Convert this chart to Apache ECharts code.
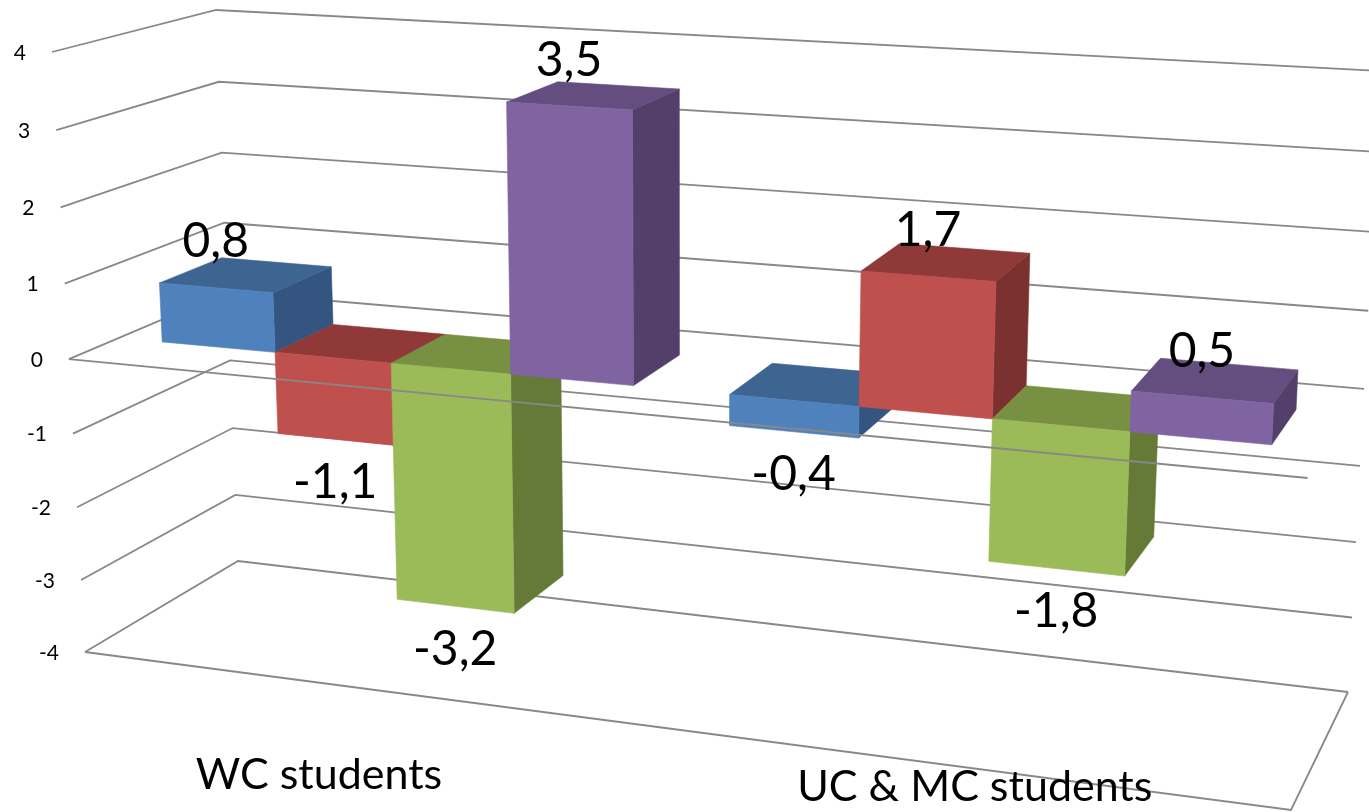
<!DOCTYPE html>
<html>
<head>
<meta charset="utf-8">
<title>Student scores by group</title>
<script src="https://cdn.jsdelivr.net/npm/echarts@6/dist/echarts.min.js"></script>
<style>
  html, body { margin: 0; padding: 0; background: #fff; }
  #chart { width: 1369px; height: 812px; }
</style>
</head>
<body>
<div id="chart"></div>
<script>
// Chart data
const categories = ['WC students', 'UC & MC students'];
const blueValues = [0.8, -0.4];
const redValues = [-1.1, 1.7];
const greenValues = [-3.2, -1.8];
const purpleValues = [3.5, 0.5];
const yTicks = [4, 3, 2, 1, 0, -1, -2, -3, -4];

// Shaded faces of each column
const palette = [
  { front: '#4F81BD', top: '#3E6491', side: '#33557F' },
  { front: '#C0504D', top: '#8F3A38', side: '#7B312F' },
  { front: '#9BBB59', top: '#789042', side: '#667A37' },
  { front: '#8064A2', top: '#644D7F', side: '#53406A' }
];

// Screen corners of the 3D plot box: F/B = front/back, L/R = left/right, T/B = top/bottom
const box = {
  FLT: [52, 52], FLB: [85, 652], BLT: [216, 10], BLB: [238, 561],
  FRT: [1325, 130], FRB: [1291, 810], BRT: [1381, 71], BRB: [1348, 692]
};
const PERSP_X = 1.15;      // foreshortening along the width
const PERSP_Y = 0.954;     // foreshortening along the height
const DEPTH_FRONT = 0.316; // front face of the columns inside the box
const DEPTH_BACK = 0.715;  // back face of the columns inside the box
const BAR_SHARE = 0.21;    // column width as a share of the category band
const BAR_SHIFT = 0.001;   // small sideways offset of every column

const GRID_COLOR = '#888888';
const FONT = 'Lato, Carlito, sans-serif';
const LABEL_GAP_ABOVE = 46;
const LABEL_GAP_BELOW = 43;
const CATEGORY_NUDGE = [[-37, 88], [18, 21]];

const mix = (a, b, f) => [a[0] + (b[0] - a[0]) * f, a[1] + (b[1] - a[1]) * f];

// Perspective projection of normalised box coordinates onto the canvas
function project(w, t, v) {
  const u = w / (w + PERSP_X * (1 - w));
  const s = t / (t + PERSP_Y * (1 - t));
  const front = mix(mix(box.FLT, box.FLB, s), mix(box.FRT, box.FRB, s), u);
  const back = mix(mix(box.BLT, box.BLB, s), mix(box.BRT, box.BRB, s), u);
  return mix(front, back, v);
}

// Normalised plot position of a category/value pair, read through the cartesian axes
function toBox(params, api, cat, val) {
  const cs = params.coordSys;
  const p = api.coord([cat, val]);
  return [(p[0] - cs.x) / cs.width, (p[1] - cs.y) / cs.height];
}

const lineStyle = { stroke: GRID_COLOR, lineWidth: 1.8, fill: null };

function renderWalls(params, api) {
  const val = api.value(1);
  const t = toBox(params, api, 0, val)[1];
  const fl = project(0, t, 0), bl = project(0, t, 1), br = project(1, t, 1);
  const children = [{
    type: 'polyline', shape: { points: [fl, bl, br] }, style: lineStyle
  }, {
    type: 'text',
    style: {
      text: String(val), x: fl[0] - 26, y: fl[1] + 1,
      align: 'right', verticalAlign: 'middle',
      font: '21px ' + FONT, fill: '#000'
    }
  }];
  if (val === yTicks[yTicks.length - 1]) {
    children.push({
      type: 'polyline',
      shape: { points: [fl, project(1, t, 0), br] },
      style: lineStyle
    });
  }
  return { type: 'group', children };
}

function renderCategory(params, api) {
  const i = api.value(0);
  const pt = toBox(params, api, i, yTicks[yTicks.length - 1]);
  const p = project(pt[0], pt[1], 0);
  return {
    type: 'text',
    z2: 5,
    style: {
      text: categories[i],
      x: p[0] + CATEGORY_NUDGE[i][0], y: p[1] + CATEGORY_NUDGE[i][1],
      align: 'center', verticalAlign: 'middle',
      font: '43px ' + FONT, fill: '#000'
    }
  };
}

function renderFrontZero(params, api) {
  const t = toBox(params, api, 0, api.value(1))[1];
  return {
    type: 'polyline',
    shape: { points: [project(0, t, 0), project(1, t, 0)] },
    style: lineStyle
  };
}

function barRenderer(index) {
  const colors = palette[index];
  return function (params, api) {
    const cat = api.value(0), val = api.value(1);
    const zero = toBox(params, api, cat, 0);
    const tip = toBox(params, api, cat, val);
    const band = api.size([1, 0])[0] / params.coordSys.width;
    const w0 = zero[0] + (index - 2) * BAR_SHARE * band + BAR_SHIFT;
    const w1 = w0 + BAR_SHARE * band;
    const tTop = Math.min(zero[1], tip[1]);
    const tBot = Math.max(zero[1], tip[1]);

    const face = (pts, fill) => ({
      type: 'polygon', shape: { points: pts },
      style: { fill, stroke: fill, lineWidth: 0.6 }
    });
    const anchor = project((w0 + w1) / 2, tip[1], DEPTH_FRONT);
    return {
      type: 'group',
      children: [
        face([project(w1, tTop, DEPTH_FRONT), project(w1, tTop, DEPTH_BACK),
              project(w1, tBot, DEPTH_BACK), project(w1, tBot, DEPTH_FRONT)], colors.side),
        face([project(w0, tTop, DEPTH_FRONT), project(w0, tTop, DEPTH_BACK),
              project(w1, tTop, DEPTH_BACK), project(w1, tTop, DEPTH_FRONT)], colors.top),
        face([project(w0, tTop, DEPTH_FRONT), project(w1, tTop, DEPTH_FRONT),
              project(w1, tBot, DEPTH_FRONT), project(w0, tBot, DEPTH_FRONT)], colors.front),
        {
          type: 'text',
          z2: 5,
          style: {
            text: String(val).replace('.', ','),
            x: anchor[0], y: anchor[1] + (val >= 0 ? -LABEL_GAP_ABOVE : LABEL_GAP_BELOW),
            align: 'center', verticalAlign: 'middle',
            font: '48px ' + FONT, fill: '#000'
          }
        }
      ]
    };
  };
}

const seriesValues = [blueValues, redValues, greenValues, purpleValues];
const encode = { x: 0, y: 1 };

const chart = echarts.init(document.getElementById('chart'), null, { renderer: 'canvas' });
chart.setOption({
  animation: false,
  backgroundColor: '#fff',
  tooltip: { show: false },
  grid: { left: 0, top: 0, width: 1369, height: 812, containLabel: false },
  xAxis: { type: 'category', data: categories, show: false },
  yAxis: { type: 'value', min: -4, max: 4, interval: 1, show: false },
  series: [
    {
      type: 'custom', name: 'walls', silent: true, encode,
      renderItem: renderWalls,
      data: yTicks.map(v => [0, v])
    },
    ...seriesValues.map((vals, i) => ({
      type: 'custom', name: 'series ' + (i + 1), silent: true, encode,
      renderItem: barRenderer(i),
      data: vals.map((v, c) => [c, v])
    })),
    {
      type: 'custom', name: 'zero line', silent: true, encode,
      renderItem: renderFrontZero,
      data: [[0, 0]]
    },
    {
      type: 'custom', name: 'category labels', silent: true, encode,
      renderItem: renderCategory,
      data: categories.map((c, i) => [i, yTicks[yTicks.length - 1]])
    }
  ]
});
</script>
</body>
</html>
